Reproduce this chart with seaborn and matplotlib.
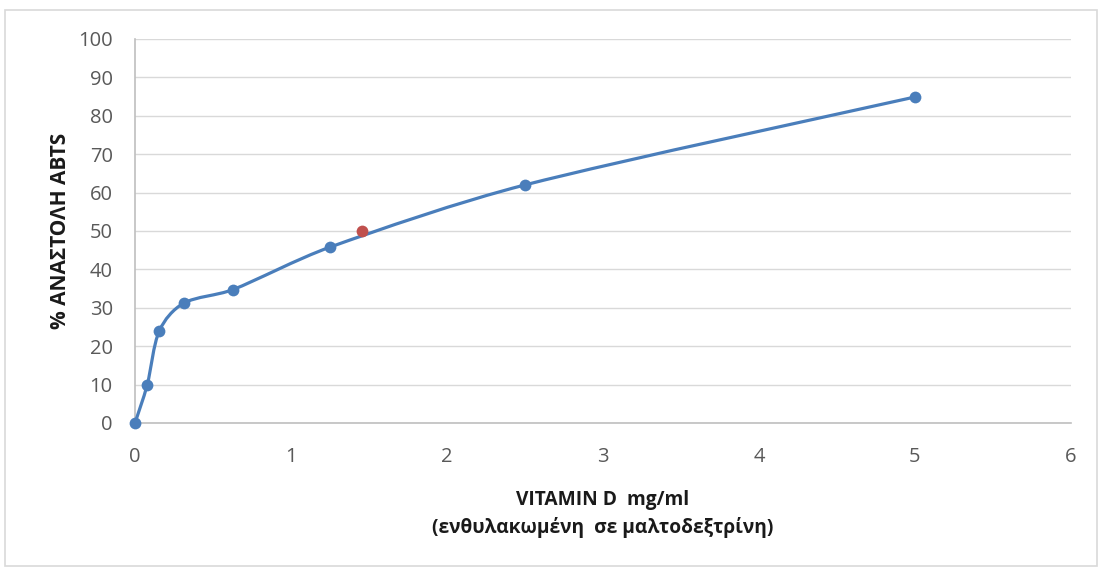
import numpy as np
import pandas as pd
import matplotlib
matplotlib.use("Agg")
import matplotlib.pyplot as plt
import seaborn as sns
from matplotlib.path import Path
from matplotlib.patches import PathPatch, Rectangle

# Data
conc = [0, 0.078, 0.156, 0.3125, 0.625, 1.25, 2.5, 5]
inhibition = [0, 9.9, 24.0, 31.2, 34.7, 45.8, 62.0, 84.9]
ic50_conc = [1.455]
ic50_inh = [49.9]

x_ticks = [0, 1, 2, 3, 4, 5, 6]
y_ticks = [0, 10, 20, 30, 40, 50, 60, 70, 80, 90, 100]

xlabel = "VITAMIN D  mg/ml\n(ενθυλακωμένη  σε μαλτοδεξτρίνη)"
ylabel = "% ΑΝΑΣΤΟΛΗ ABTS"

BLUE = "#4A7EBB"
RED = "#C0504D"
GRAY_TXT = "#595959"

sns.set_theme(style="white")
plt.rcParams["font.family"] = ["Open Sans", "DejaVu Sans"]

df = pd.DataFrame({"conc": conc, "inh": inhibition})
df_red = pd.DataFrame({"conc": ic50_conc, "inh": ic50_inh})

fig = plt.figure(figsize=(11.02, 5.71), dpi=100)
ax = fig.add_axes([135 / 1102, 1 - 423 / 571, (1071 - 135) / 1102, (423 - 39) / 571])
ax.set_xlim(0, 6)
ax.set_ylim(0, 100)

# Smooth (Excel-like) curve: cubic Bezier segments with control points
# computed in display space and limited to a third of the segment length
pts = ax.transData.transform(np.column_stack([df["conc"].values, df["inh"].values]))
n = len(pts)
verts = [pts[0]]
codes = [Path.MOVETO]
for i in range(n - 1):
    p0 = pts[i - 1] if i > 0 else pts[i]
    p1 = pts[i]
    p2 = pts[i + 1]
    p3 = pts[i + 2] if i + 2 < n else pts[i + 1]
    seg = np.linalg.norm(p2 - p1)
    t1 = (p2 - p0) / 6.0
    t2 = (p3 - p1) / 6.0
    lim = seg / 3.0
    if np.linalg.norm(t1) > lim:
        t1 = t1 / np.linalg.norm(t1) * lim
    if np.linalg.norm(t2) > lim:
        t2 = t2 / np.linalg.norm(t2) * lim
    verts += [p1 + t1, p2 - t2, p2]
    codes += [Path.CURVE4, Path.CURVE4, Path.CURVE4]
data_verts = ax.transData.inverted().transform(np.array(verts))
ax.add_patch(PathPatch(Path(data_verts, codes), facecolor="none", edgecolor=BLUE,
                       lw=2.3, capstyle="round", joinstyle="round", zorder=3,
                       clip_on=False))

sns.scatterplot(data=df, x="conc", y="inh", ax=ax, color=BLUE, s=72,
                edgecolor=BLUE, linewidth=0, zorder=4, legend=False, clip_on=False)
sns.scatterplot(data=df_red, x="conc", y="inh", ax=ax, color=RED, s=72,
                edgecolor=RED, linewidth=0, zorder=5, legend=False, clip_on=False)

ax.set_xlim(0, 6)
ax.set_ylim(0, 100)
ax.set_xticks(x_ticks)
ax.set_yticks(y_ticks)
ax.set_xticklabels([str(t) for t in x_ticks])
ax.set_yticklabels([str(t) for t in y_ticks])
ax.tick_params(axis="both", length=0, labelsize=14.5, labelcolor=GRAY_TXT)
ax.tick_params(axis="x", pad=17)
ax.tick_params(axis="y", pad=16)

ax.yaxis.grid(True, color="#D9D9D9", lw=1)
ax.xaxis.grid(False)
ax.set_axisbelow(True)
for s in ["top", "right"]:
    ax.spines[s].set_visible(False)
for s in ["left", "bottom"]:
    ax.spines[s].set_color("#BFBFBF")
    ax.spines[s].set_linewidth(1.2)

ax.set_xlabel(xlabel, fontsize=13.8, fontweight="bold", color="#1a1a1a",
              labelpad=17, linespacing=1.45)
ax.set_ylabel(ylabel, fontsize=15, fontweight="bold", color="#1a1a1a", labelpad=5)

fig.patches.append(Rectangle((5 / 1102, 5 / 571), 1092 / 1102, 556 / 571,
                             transform=fig.transFigure, fill=False,
                             edgecolor="#D9D9D9", lw=1.2))

fig.savefig("out.png", dpi=100, facecolor="white")
